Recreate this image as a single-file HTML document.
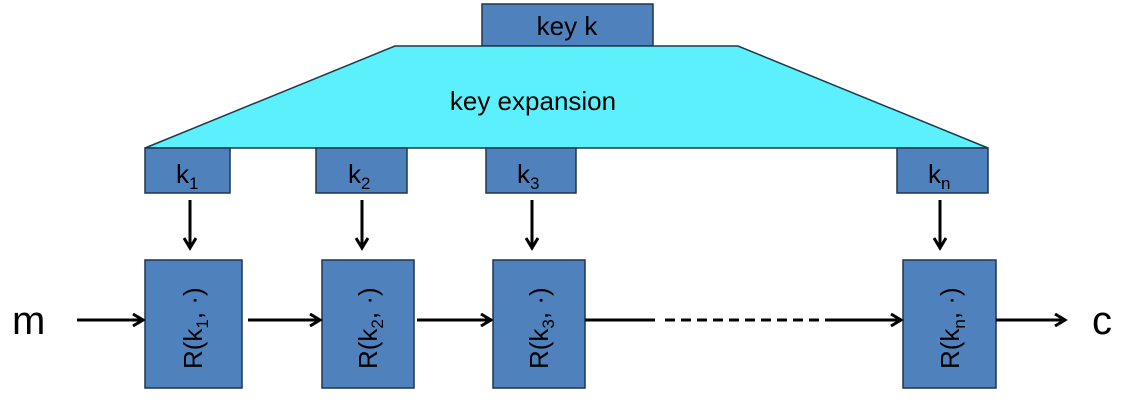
<!DOCTYPE html>
<html><head><meta charset="utf-8"><style>
html,body{margin:0;padding:0;background:#fff;}
svg{display:block;}
text{font-family:"Liberation Sans",sans-serif;fill:#000;}
</style></head><body>
<svg width="1122" height="402" viewBox="0 0 1122 402" xmlns="http://www.w3.org/2000/svg">
<defs>
<marker id="ah" markerWidth="14" markerHeight="14" refX="11" refY="7" orient="auto" markerUnits="userSpaceOnUse">
<path d="M1,1 L11,7 L1,13" fill="none" stroke="#000" stroke-width="3"/>
</marker>
</defs>
<!-- key k -->
<rect x="482" y="4" width="171" height="42" fill="#4f81bd" stroke="#1f3550" stroke-width="1.5"/>
<text x="567" y="35" font-size="26" text-anchor="middle">key  k</text>
<!-- trapezoid -->
<polygon points="395,46 738,46 988,148 145,148" fill="#5cf0fc" stroke="#1c3a4a" stroke-width="1.5"/>
<text x="533" y="110" font-size="26" text-anchor="middle">key expansion</text>
<!-- k boxes -->
<g fill="#4f81bd" stroke="#1f3550" stroke-width="1.5">
<rect x="145" y="148" width="85" height="45"/>
<rect x="316" y="148" width="91" height="45"/>
<rect x="486" y="148" width="90" height="45"/>
<rect x="897" y="148" width="91" height="45"/>
</g>
<g font-size="26">
<text x="176" y="183">k<tspan font-size="17" dy="6">1</tspan></text>
<text x="348" y="183">k<tspan font-size="17" dy="6">2</tspan></text>
<text x="517" y="183">k<tspan font-size="17" dy="6">3</tspan></text>
<text x="928" y="183">k<tspan font-size="17" dy="6">n</tspan></text>
</g>
<!-- vertical arrows -->
<g stroke="#000" stroke-width="3" marker-end="url(#ah)">
<line x1="190" y1="200" x2="190" y2="248"/>
<line x1="362" y1="200" x2="362" y2="248"/>
<line x1="532" y1="200" x2="532" y2="248"/>
<line x1="940" y1="200" x2="940" y2="248"/>
</g>
<!-- round boxes -->
<g fill="#4f81bd" stroke="#1f3550" stroke-width="1.5">
<rect x="145" y="260" width="97" height="128"/>
<rect x="322" y="260" width="92" height="128"/>
<rect x="493" y="260" width="92" height="128"/>
<rect x="903" y="260" width="93" height="128"/>
</g>
<g font-size="26">
<text transform="translate(202,369) rotate(-90)">R(k<tspan font-size="17" dy="6">1</tspan><tspan dy="-6">, ·)</tspan></text>
<text transform="translate(377,369) rotate(-90)">R(k<tspan font-size="17" dy="6">2</tspan><tspan dy="-6">, ·)</tspan></text>
<text transform="translate(548,369) rotate(-90)">R(k<tspan font-size="17" dy="6">3</tspan><tspan dy="-6">, ·)</tspan></text>
<text transform="translate(959,369) rotate(-90)">R(k<tspan font-size="17" dy="6">n</tspan><tspan dy="-6">, ·)</tspan></text>
</g>
<!-- m and c -->
<text x="12" y="334" font-size="40">m</text>
<text x="1092" y="334" font-size="40">c</text>
<!-- horizontal arrows -->
<g stroke="#000" stroke-width="3">
<line x1="77" y1="320" x2="143" y2="320" marker-end="url(#ah)"/>
<line x1="248" y1="320" x2="320" y2="320" marker-end="url(#ah)"/>
<line x1="417" y1="320" x2="491" y2="320" marker-end="url(#ah)"/>
<line x1="585" y1="320" x2="655" y2="320"/>
<line x1="665" y1="320" x2="830" y2="320" stroke-dasharray="10,6"/>
<line x1="830" y1="320" x2="901" y2="320" marker-end="url(#ah)"/>
<line x1="996" y1="320" x2="1065" y2="320" marker-end="url(#ah)"/>
</g>
</svg>
</body></html>
